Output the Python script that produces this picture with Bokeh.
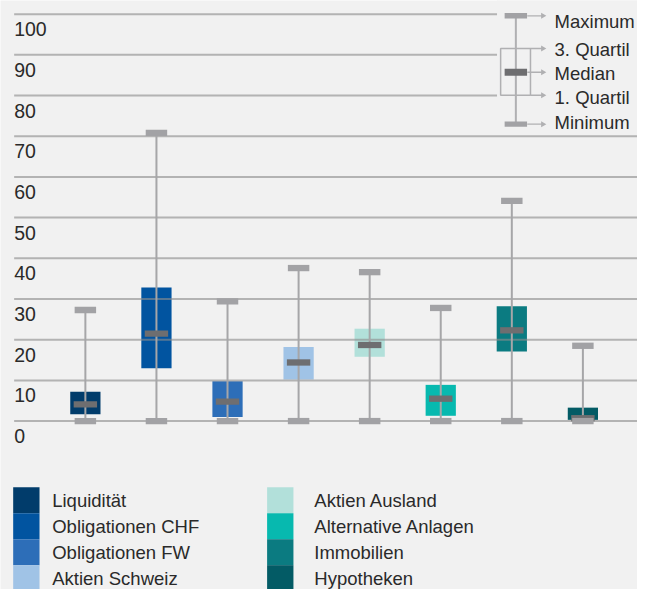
import numpy as np
from bokeh.plotting import figure
from bokeh.models import Range1d, ColumnDataSource
from bokeh.core.properties import value
from bokeh.embed import file_html
from bokeh.resources import INLINE

# ---------------- data ----------------
categories = ["Liquidität", "Obligationen CHF", "Obligationen FW", "Aktien Schweiz",
              "Aktien Ausland", "Alternative Anlagen", "Immobilien", "Hypotheken"]
colors = ["#013c6b", "#0154a0", "#2d6eb8", "#a0c3e6",
          "#b2e0da", "#07b9af", "#0b7b81", "#035b65"]
minimum = [0, 0, 0, 0, 0, 0, 0, 0]
q1 = [1.7, 13.0, 1.0, 10.2, 15.8, 1.3, 17.1, 0.3]
median = [4.1, 21.5, 4.8, 14.4, 18.7, 5.5, 22.3, 0.7]
q3 = [7.2, 32.8, 9.8, 18.2, 22.7, 8.9, 28.2, 3.3]
maximum = [27.3, 70.8, 29.4, 37.6, 36.6, 27.8, 54.1, 18.5]
y_ticks = [0, 10, 20, 30, 40, 50, 60, 70, 80, 90, 100]
y_tick_labels = ["0", "10", "20", "30", "40", "50", "60", "70", "80", "90", "100"]
key_labels = ["Maximum", "3. Quartil", "Median", "1. Quartil", "Minimum"]

# ---------------- layout ----------------
BG = "#f1f1f1"
FONT = value("Liberation Sans")
TXT = "#2a2a2a"
W, H = 637, 589
REF_W, REF_H = 653, 605
SX, SY = W / REF_W, H / REF_H
X_FIRST, X_STEP = 87, 72.86
Y_ZERO, Y_HUNDRED = 432, 14
ppu_x = X_STEP * SX
ppu_y = (Y_ZERO - Y_HUNDRED) * SY / 100.0


def xd(X):
    return (X * SX - X_FIRST * SX) / ppu_x


def yd(Y):
    return (Y_ZERO * SY - Y * SY) / ppu_y


p = figure(width=W, height=H, output_backend="svg", toolbar_location=None,
           x_range=Range1d(xd(0), xd(REF_W)), y_range=Range1d(yd(REF_H), yd(0)),
           x_axis_location=None, y_axis_location=None,
           min_border=0, min_border_left=0, min_border_right=0,
           min_border_top=0, min_border_bottom=0)
p.grid.visible = False
p.outline_line_color = None
p.background_fill_color = BG
p.border_fill_color = BG

src = ColumnDataSource(dict(x=list(range(len(categories))), cat=categories, color=colors,
                            lo=minimum, q1=q1, med=median, q3=q3, hi=maximum))

# boxes
p.vbar(x="x", bottom="q1", top="q3", width=31 * SX / ppu_x, fill_color="color",
       line_color=None, source=src)
# gridlines (drawn over the boxes)
p.segment(x0=xd(14), x1=xd(REF_W + 2), y0=y_ticks, y1=y_ticks,
          line_color="#8c8c8c", line_alpha=0.62, line_width=2)
# whiskers
p.segment(x0="x", x1="x", y0="lo", y1="hi", line_color="#a6a6a8", line_width=2, source=src)
# medians
p.rect(x="x", y="med", width=24 * SX, height=6.5 * SY, width_units="screen",
       height_units="screen", fill_color="#6e6e70", line_color=None, source=src)
# caps
for col in ["hi", "lo"]:
    p.rect(x="x", y=col, width=22 * SX, height=6.5 * SY, width_units="screen",
           height_units="screen", fill_color="#a2a2a5", line_color=None, source=src)

# y tick labels
p.text(x=xd(14), y=y_ticks, text=y_tick_labels, text_align="left", text_baseline="middle",
       y_offset=15, text_font=FONT, text_font_size="19.5px", text_color=TXT)

# ---------------- key (top right) ----------------
p.quad(left=xd(509), right=xd(REF_W + 5), top=yd(-5), bottom=yd(134),
       fill_color=BG, line_color=None)
kx = 528.3
p.segment(x0=xd(kx), x1=xd(kx), y0=yd(15.7), y1=yd(127), line_color="#b0b0b2", line_width=2)
p.quad(left=xd(512.7), right=xd(543.3), top=yd(49.3), bottom=yd(97.3),
       fill_color=None, line_color="#b0b0b2", line_width=1.5)
p.rect(x=xd(kx), y=[yd(15.7), yd(127)], width=23 * SX, height=5.5 * SY,
       width_units="screen", height_units="screen", fill_color="#a2a2a5", line_color=None)
p.rect(x=xd(kx), y=yd(73.7), width=23 * SX, height=7 * SY,
       width_units="screen", height_units="screen", fill_color="#6e6e70", line_color=None)
arrow_y = [15.7, 49.3, 73.7, 97.3, 127]
arrow_x0 = [540, 543.3, 540, 543.3, 540]
p.segment(x0=[xd(v) for v in arrow_x0], x1=xd(555), y0=[yd(v) for v in arrow_y],
          y1=[yd(v) for v in arrow_y], line_color="#b0b0b2", line_width=1.3)
p.scatter(x=xd(556), y=[yd(v) for v in arrow_y], marker="triangle", size=6,
          angle=-np.pi / 2, fill_color="#b0b0b2", line_color=None)
label_y = [22, 50, 75, 99.5, 125]
p.text(x=xd(568), y=[yd(v) for v in label_y], text=key_labels, text_align="left",
       text_baseline="middle", text_font=FONT, text_font_size="18.5px", text_color=TXT)

# ---------------- legend (bottom) ----------------
row_h = 26.67
lx = [13 if i < 4 else 273.3 for i in range(len(categories))]
ly = [500 + row_h * (i % 4) for i in range(len(categories))]
p.quad(left=[xd(v) for v in lx], right=[xd(v + 27) for v in lx],
       top=[yd(v) for v in ly], bottom=[yd(v + row_h) for v in ly],
       fill_color=colors, line_color=None)
tx = [53 if i < 4 else 321.7 for i in range(len(categories))]
p.text(x=[xd(v) for v in tx], y=[yd(v + row_h / 2) for v in ly], text=categories,
       text_align="left", text_baseline="middle", text_font=FONT,
       text_font_size="18.5px", text_color=TXT)

open("out.html", "w").write(file_html(p, INLINE))
